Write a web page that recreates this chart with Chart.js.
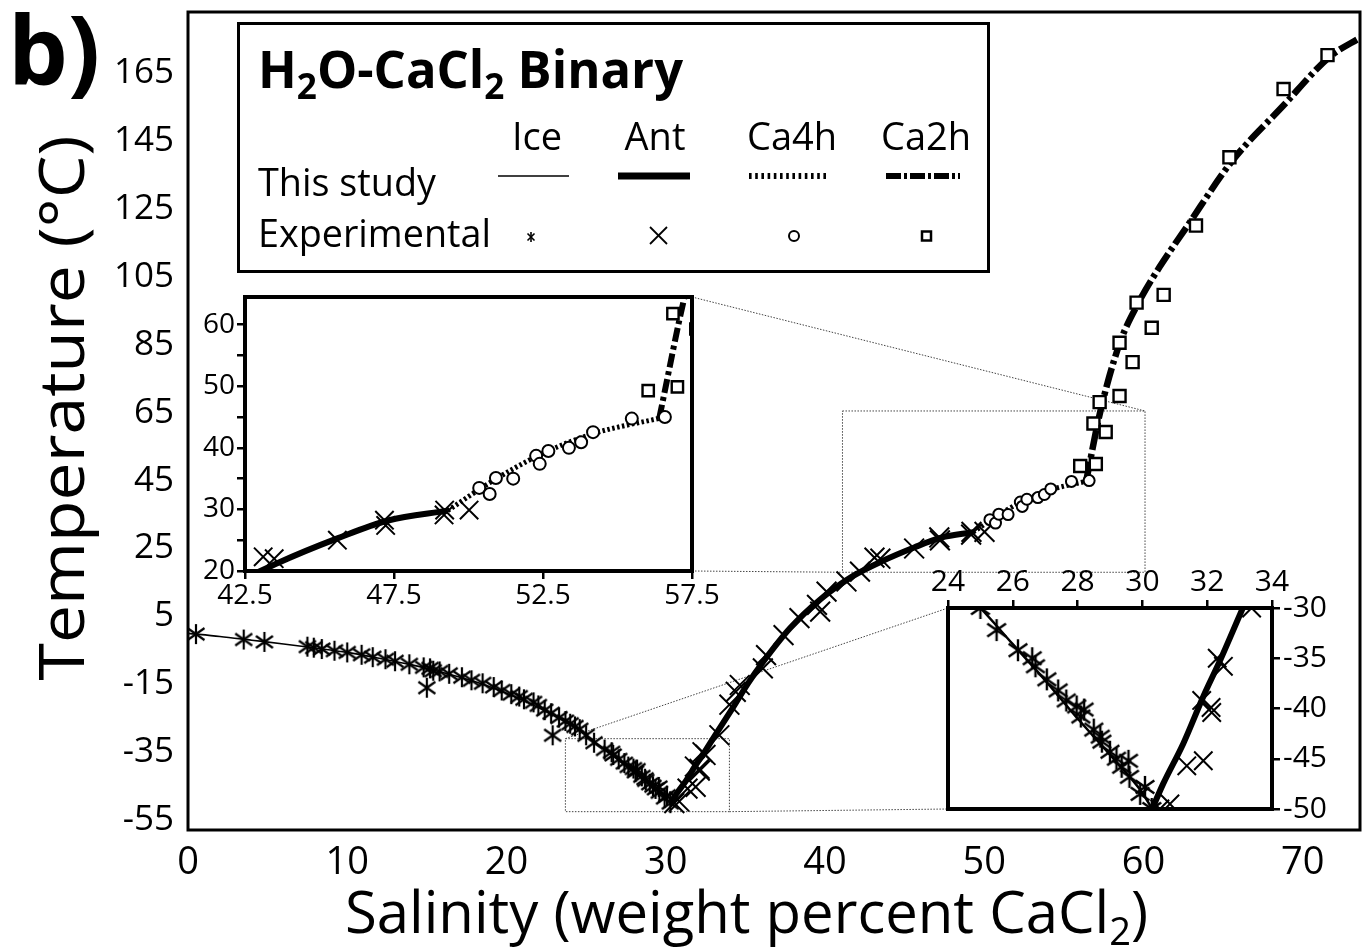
<!DOCTYPE html>
<html>
<head>
<meta charset="utf-8">
<script src="https://cdn.jsdelivr.net/npm/chart.js@4.4.1/dist/chart.umd.min.js"></script>
<style>
  html, body { margin: 0; padding: 0; background: #fff; }
  #wrap { position: relative; width: 1362px; height: 951px; overflow: hidden; }
  canvas { position: absolute; }
  #ov { position: absolute; left: 0; top: 0; pointer-events: none; font-family: 'Open Sans', sans-serif; }
</style>
</head>
<body>
<div id="wrap">
  <canvas id="main" width="1362" height="951" style="left:0;top:0"></canvas>
  <canvas id="ins1" width="545" height="335" style="left:190px;top:285px"></canvas>
  <canvas id="ins2" width="462" height="265" style="left:900px;top:565px"></canvas>
  <svg id="ov" width="1362" height="951">
    <text x="8" y="84" font-size="95" font-weight="bold" textLength="92" lengthAdjust="spacingAndGlyphs">b)</text>
    <text transform="translate(84,408) rotate(-90)" text-anchor="middle" font-size="62" textLength="545" lengthAdjust="spacingAndGlyphs">Temperature (°C)</text>
    <text x="345" y="933" font-size="58" textLength="803" lengthAdjust="spacingAndGlyphs">Salinity (weight percent CaCl<tspan font-size="38" dy="12">2</tspan><tspan dy="-12">)</tspan></text>

    <rect x="238.5" y="23.5" width="750" height="248" fill="#fff" stroke="#000" stroke-width="3"/>
    <text x="258" y="88" font-size="52" font-weight="bold" textLength="425" lengthAdjust="spacingAndGlyphs">H<tspan dy="11" font-size="36">2</tspan><tspan dy="-11">O-CaCl</tspan><tspan dy="11" font-size="36">2</tspan><tspan dy="-11"> Binary</tspan></text>
    <g font-size="38" text-anchor="middle">
      <text x="537" y="150">Ice</text>
      <text x="655" y="150">Ant</text>
      <text x="792" y="150">Ca4h</text>
      <text x="926" y="150">Ca2h</text>
    </g>
    <text x="258" y="196" font-size="38" textLength="178" lengthAdjust="spacingAndGlyphs">This study</text>
    <text x="258" y="247" font-size="38" textLength="233" lengthAdjust="spacingAndGlyphs">Experimental</text>
    <g stroke="#000" fill="none">
      <line x1="498" y1="176" x2="569" y2="176" stroke-width="1.6"/>
      <line x1="618" y1="176" x2="690" y2="176" stroke-width="7"/>
      <line x1="749" y1="176" x2="826" y2="176" stroke-width="6" stroke-dasharray="2.6 3.6"/>
      <line x1="886" y1="176" x2="960" y2="176" stroke-width="6" stroke-dasharray="15 3 3 3"/>
      <g stroke-width="1.6">
        <line x1="531" y1="232" x2="531" y2="242"/>
        <line x1="527.5" y1="233.5" x2="534.5" y2="240.5"/>
        <line x1="534.5" y1="233.5" x2="527.5" y2="240.5"/>
      </g>
      <g stroke-width="1.8">
        <line x1="650" y1="227" x2="667" y2="244"/>
        <line x1="667" y1="227" x2="650" y2="244"/>
      </g>
      <circle cx="794" cy="236" r="5" stroke-width="2"/>
      <rect x="922" y="231.5" width="9" height="9" stroke-width="2.5"/>
    </g>
  </svg>
</div>
<script>
// ---- data (salinity wt% CaCl2, temperature degC) ----
const iceCurveS = [0, 2, 4, 6, 8, 10, 12, 14, 16, 18, 20, 22, 24, 25, 26, 27, 28, 29, 30, 30.3];
const iceCurveT = [0, -0.9, -2.0, -3.1, -4.3, -5.6, -7.3, -9.2, -11.5, -14.2, -17.6, -21.8, -26.8, -30.0, -33.6, -37.2, -41.0, -44.6, -48.4, -50.0];

const antCurveS = [30.3, 30.64, 31.26, 31.88, 32.4, 33.1, 34.2, 35.2, 36.1, 37.8, 39.7, 41.8, 43.6, 45.6, 47.3, 49.3];
const antCurveT = [-50, -47.5, -43.5, -38.8, -35.2, -30, -22, -14.5, -8.5, 1.5, 10, 17, 21.3, 25.3, 28.2, 29.8];

const ca4hCurveS = [49.3, 50.7, 52.45, 54.18, 56.4];
const ca4hCurveT = [29.8, 34.3, 39.0, 42.3, 44.8];

const ca2hCurveS = [56.4, 57.3, 58.5, 59.76, 61.0, 62.7, 65.6, 68.7, 71.7, 73.7];
const ca2hCurveT = [44.8, 65.5, 85.3, 98, 107.8, 119.6, 139.3, 155, 169.8, 175.7];

const iceExpS = [0.5, 3.5, 4.8, 7.5, 7.9, 8.4, 9.2, 10.0, 10.9, 11.6, 12.4, 13.0, 13.9, 14.8, 15.0, 15.2, 15.4, 15.8, 16.4, 17.2, 17.8, 18.5, 19.2, 19.7, 20.3, 20.8, 21.1, 21.7, 22.0, 22.4, 22.8, 22.9, 23.3, 23.7, 24.0, 24.3, 24.6, 25.0, 25.5, 26.16, 26.6, 26.7, 27.05, 27.4, 27.65, 27.97, 28.1, 28.2, 28.5, 28.7, 28.75, 29.0, 29.2, 29.36, 29.57, 29.6, 29.93, 30.08, 30.29];
const iceExpT = [-0.2, -1.8, -2.5, -3.9, -4.2, -4.6, -5.1, -5.6, -6.3, -7.0, -7.6, -8.2, -9.1, -10.0, -16.0, -10.3, -11.0, -11.2, -11.9, -12.9, -13.8, -14.7, -15.8, -16.8, -17.9, -18.6, -19.4, -20.3, -21.2, -22.6, -23.5, -30.0, -24.8, -25.8, -26.6, -27.4, -28.2, -30.0, -32.2, -34.2, -35.0, -35.8, -37.1, -38.2, -39.2, -39.8, -40.8, -40.1, -42.1, -42.8, -43.3, -44.3, -45.0, -45.8, -45.2, -46.8, -48.5, -47.8, -50.0];

const antExpS = [30.54, 30.85, 31.37, 31.88, 31.83, 32.12, 32.14, 32.31, 32.5, 33.37, 34.0, 34.4, 34.65, 36.1, 36.3, 37.4, 38.4, 39.5, 39.7, 40.1, 41.35, 42.2, 43.11, 43.48, 45.6, 47.22, 47.18, 49.18, 49.2, 50.02];
const antExpT = [-50, -49.5, -45.7, -45.2, -39.2, -39.9, -40.4, -35.0, -35.8, -30.0, -21.0, -17.2, -15.2, -10.3, -6.4, -0.5, 4.5, 8.4, 6.4, 12.3, 15.3, 18.2, 22.3, 22.0, 25.0, 27.4, 28.25, 29.1, 29.9, 29.9];

const ca4hExpS = [50.36, 50.71, 50.92, 51.5, 52.27, 52.39, 52.68, 53.37, 53.78, 54.18, 55.48, 56.59];
const ca4hExpT = [33.5, 32.5, 35.1, 35.0, 38.7, 37.4, 39.5, 40.0, 40.9, 42.55, 44.75, 45.0];

const ca2hExpS = [56.03, 57.01, 56.86, 57.63, 57.25, 58.5, 59.32, 58.5, 60.52, 59.57, 61.27, 63.3, 65.4, 68.8, 71.56];
const ca2hExpT = [49.3, 49.9, 61.8, 59.3, 68.1, 69.9, 79.9, 85.6, 90.0, 97.4, 99.7, 120.1, 140.2, 160.3, 170.3];

// ticks
const mainXTicks = [0, 10, 20, 30, 40, 50, 60, 70];
const mainYTicks = [-55, -35, -15, 5, 25, 45, 65, 85, 105, 125, 145, 165];
const ins1XTicks = [42.5, 47.5, 52.5, 57.5];
const ins1YTicks = [20, 25, 30, 35, 40, 45, 50, 55, 60];
const ins2XTicks = [24, 26, 28, 30, 32, 34];
const ins2YTicks = [-50, -45, -40, -35, -30];

// zoom boxes on main plot: [sMin, sMax, tMin, tMax]
const zoomBox1 = [41.1, 60.1, 18, 65.5];
const zoomBox2 = [23.7, 34.0, -52.5, -31];

const FONT = "'Open Sans', sans-serif";

function pairs(xs, ys) { return xs.map((x, i) => ({ x: x, y: ys[i] })); }

function asterisk(size, lw) {
  const c = document.createElement('canvas');
  c.width = size; c.height = size;
  const g = c.getContext('2d');
  const m = size / 2, r = size / 2 - 1;
  g.strokeStyle = '#000'; g.lineWidth = lw;
  g.beginPath();
  g.moveTo(m, m - r); g.lineTo(m, m + r);
  g.moveTo(m - r * 0.85, m - r * 0.6); g.lineTo(m + r * 0.85, m + r * 0.6);
  g.moveTo(m + r * 0.85, m - r * 0.6); g.lineTo(m - r * 0.85, m + r * 0.6);
  g.stroke();
  return c;
}

function buildSets(st) {
  const pts = (xs, ys, style, r, lw) => ({
    data: pairs(xs, ys), showLine: false, pointStyle: style, pointRadius: r,
    pointBorderWidth: lw, pointBorderColor: '#000', pointBackgroundColor: '#fff'
  });
  const line = (xs, ys, w, dash) => ({
    data: pairs(xs, ys), showLine: true, pointRadius: 0, borderColor: '#000',
    borderWidth: w, borderDash: dash, cubicInterpolationMode: 'monotone', borderCapStyle: 'butt'
  });
  return [
    pts(ca2hExpS, ca2hExpT, 'rect', st.sq, 2.4),
    pts(ca4hExpS, ca4hExpT, 'circle', st.circ, 2),
    pts(antExpS, antExpT, 'crossRot', st.cross, st.crossW),
    pts(iceExpS, iceExpT, asterisk(st.ast, st.astW), 10, 1),
    line(ca2hCurveS, ca2hCurveT, st.ca2hW, st.ca2hDash),
    line(ca4hCurveS, ca4hCurveT, st.ca4hW, st.ca4hDash),
    line(antCurveS, antCurveT, st.antW, []),
    line(iceCurveS, iceCurveT, st.iceW, [])
  ];
}

function fixedAxis(list) {
  return s => { s.ticks = list.map(v => ({ value: v })); };
}
function fitTo(prop, size) {
  return s => {
    s[prop] = size;
    s.paddingTop = 0; s.paddingBottom = 0; s.paddingLeft = 0; s.paddingRight = 0;
  };
}

const insetFrame = {
  id: 'insetFrame',
  beforeDatasetsDraw(chart) {
    const a = chart.chartArea, ctx = chart.ctx;
    ctx.save();
    ctx.fillStyle = '#fff';
    ctx.fillRect(a.left, a.top, a.right - a.left, a.bottom - a.top);
    ctx.restore();
  },
  afterDraw(chart) {
    const a = chart.chartArea, ctx = chart.ctx;
    ctx.save();
    ctx.strokeStyle = '#000'; ctx.lineWidth = 4;
    ctx.strokeRect(a.left, a.top, a.right - a.left, a.bottom - a.top);
    ctx.restore();
  }
};

const tickGrid = { display: true, drawOnChartArea: false, drawTicks: true, tickLength: 8, color: '#000', lineWidth: 2.5 };

// ---- inset 1: 42.5-57.5 wt%, 20-64.5 C ----
const ins1 = new Chart(document.getElementById('ins1'), {
  type: 'scatter',
  data: { datasets: buildSets({ sq: 8, circ: 6, cross: 13, crossW: 2, ast: 22, astW: 2.2, ca2hW: 6, ca2hDash: [14, 4, 4, 4], ca4hW: 5, ca4hDash: [2.5, 2.5], antW: 6, iceW: 2 }) },
  options: {
    responsive: false, animation: false, devicePixelRatio: 1,
    layout: { autoPadding: false, padding: { left: 0, top: 12, right: 43, bottom: 0 } },
    plugins: { legend: { display: false }, tooltip: { enabled: false } },
    scales: {
      x: {
        type: 'linear', min: 42.5, max: 57.5,
        afterBuildTicks: fixedAxis(ins1XTicks), afterFit: fitTo('height', 49),
        grid: tickGrid, border: { display: false },
        ticks: { color: '#000', font: { family: FONT, size: 28 }, padding: 0, maxRotation: 0, autoSkip: false }
      },
      y: {
        type: 'linear', min: 20, max: 64.5,
        afterBuildTicks: fixedAxis(ins1YTicks), afterFit: fitTo('width', 55),
        grid: tickGrid, border: { display: false },
        ticks: { color: '#000', font: { family: FONT, size: 28 }, padding: 2, autoSkip: false,
          callback: v => (v % 10 === 0 ? v : '') }
      }
    }
  },
  plugins: [insetFrame]
});

// ---- inset 2: 24-34 wt%, -50 to -30 C ----
const ins2 = new Chart(document.getElementById('ins2'), {
  type: 'scatter',
  data: { datasets: buildSets({ sq: 8, circ: 6, cross: 13, crossW: 2, ast: 24, astW: 2.4, ca2hW: 6, ca2hDash: [14, 4, 4, 4], ca4hW: 5, ca4hDash: [2.5, 2.5], antW: 6, iceW: 2.5 }) },
  options: {
    responsive: false, animation: false, devicePixelRatio: 1,
    layout: { autoPadding: false, padding: { left: 48, top: 0, right: 0, bottom: 21 } },
    plugins: { legend: { display: false }, tooltip: { enabled: false } },
    scales: {
      x: {
        type: 'linear', position: 'top', min: 24, max: 34,
        afterBuildTicks: fixedAxis(ins2XTicks), afterFit: fitTo('height', 43),
        grid: tickGrid, border: { display: false },
        ticks: { color: '#000', font: { family: FONT, size: 30 }, padding: 0, maxRotation: 0, autoSkip: false }
      },
      y: {
        type: 'linear', position: 'right', min: -50, max: -30,
        afterBuildTicks: fixedAxis(ins2YTicks), afterFit: fitTo('width', 90),
        grid: tickGrid, border: { display: false },
        ticks: { color: '#000', font: { family: FONT, size: 30 }, padding: 3, autoSkip: false }
      }
    }
  },
  plugins: [insetFrame]
});

// ---- main plot decorations: zoom boxes, connectors, frame ----
function insetCorner(chart, cv, cx, cy) {
  const a = chart.chartArea;
  return [cv.offsetLeft + a[cx], cv.offsetTop + a[cy]];
}

const mainDecor = {
  id: 'mainDecor',
  beforeDatasetsDraw(chart) {
    const ctx = chart.ctx, xs = chart.scales.x, ys = chart.scales.y;
    const px = v => xs.getPixelForValue(v), py = v => ys.getPixelForValue(v);
    ctx.save();
    ctx.strokeStyle = '#444'; ctx.lineWidth = 1; ctx.setLineDash([1.5, 1.5]);
    [zoomBox1, zoomBox2].forEach(b => {
      ctx.strokeRect(px(b[0]), py(b[3]), px(b[1]) - px(b[0]), py(b[2]) - py(b[3]));
    });
    const c1 = document.getElementById('ins1'), c2 = document.getElementById('ins2');
    const seg = (p, q) => { ctx.beginPath(); ctx.moveTo(p[0], p[1]); ctx.lineTo(q[0], q[1]); ctx.stroke(); };
    seg(insetCorner(ins1, c1, 'right', 'top'), [px(zoomBox1[1]), py(zoomBox1[3])]);
    seg(insetCorner(ins1, c1, 'right', 'bottom'), [px(zoomBox1[0]), py(zoomBox1[2])]);
    seg([px(zoomBox2[0]), py(zoomBox2[3])], insetCorner(ins2, c2, 'left', 'top'));
    seg([px(zoomBox2[1]), py(zoomBox2[2])], insetCorner(ins2, c2, 'left', 'bottom'));
    ctx.restore();
  },
  afterDraw(chart) {
    const a = chart.chartArea, ctx = chart.ctx;
    ctx.save();
    ctx.strokeStyle = '#000'; ctx.lineWidth = 3;
    ctx.strokeRect(a.left, a.top, a.right - a.left, a.bottom - a.top);
    ctx.restore();
  }
};

new Chart(document.getElementById('main'), {
  type: 'scatter',
  data: { datasets: buildSets({ sq: 8.5, circ: 5.5, cross: 14, crossW: 2, ast: 22, astW: 2.2, ca2hW: 6.5, ca2hDash: [20, 4, 4, 4], ca4hW: 5, ca4hDash: [2.5, 2.5], antW: 6, iceW: 1.6 }) },
  options: {
    responsive: false, animation: false, devicePixelRatio: 1,
    layout: { autoPadding: false, padding: { left: 0, top: 12, right: 2, bottom: 0 } },
    plugins: { legend: { display: false }, tooltip: { enabled: false } },
    scales: {
      x: {
        type: 'linear', min: 0, max: 73.6,
        afterBuildTicks: fixedAxis(mainXTicks), afterFit: fitTo('height', 121),
        grid: { display: false, drawTicks: false }, border: { display: false },
        ticks: { color: '#000', font: { family: FONT, size: 38 }, padding: 10, maxRotation: 0, autoSkip: false }
      },
      y: {
        type: 'linear', min: -57.9, max: 183,
        afterBuildTicks: fixedAxis(mainYTicks), afterFit: fitTo('width', 188),
        grid: { display: false, drawTicks: false }, border: { display: false },
        ticks: { color: '#000', font: { family: FONT, size: 35 }, padding: 14, autoSkip: false }
      }
    }
  },
  plugins: [mainDecor]
});
</script>
</body>
</html>
